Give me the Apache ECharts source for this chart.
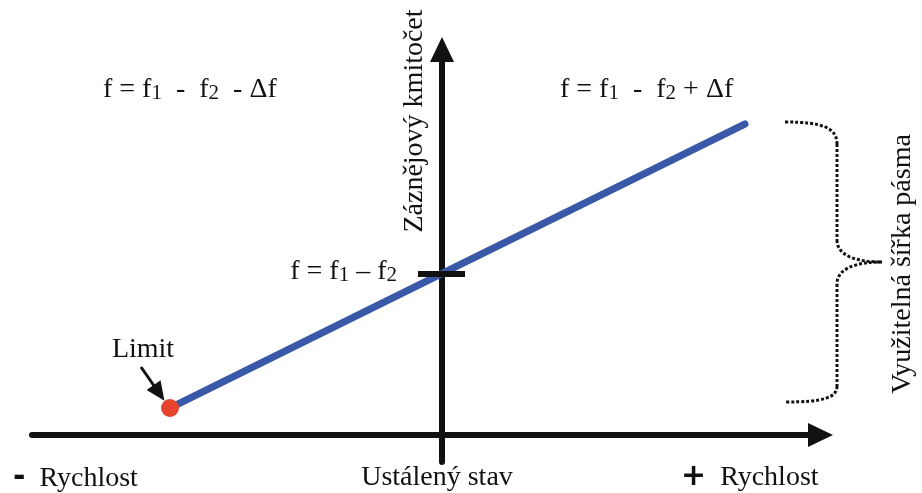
<!DOCTYPE html>
<html>
<head>
<meta charset="utf-8">
<script src="https://cdn.jsdelivr.net/npm/echarts@6/dist/echarts.min.js"></script>
<style>
  html, body { margin: 0; padding: 0; background: #fff; }
  #chart { width: 922px; height: 493px; }
</style>
</head>
<body>
<div id="chart"></div>
<script>
// speed (x) and beat frequency (y) in arbitrary units, steady state at 0
const speed = [-27.2, 0, 30.3]
const freq = [2.7, 16.15, 31.1]
// f = f1 - f2 level marked on the y axis
const baseFreq = 16.15
// arrow pointing at the limit point: [start, end]
const limitArrow = [[-30.1, 6.8], [-28.3, 4.2]]
// usable bandwidth brace: x, top, bottom
const braceX = 34.3
const braceRange = [31.3, 3.3]

const serif = 'Liberation Serif'
const ink = '#111'

const chart = echarts.init(document.getElementById('chart'))

const text = (x, y, str, opts) => Object.assign({
  type: 'text',
  x: x,
  y: y,
  silent: true,
  style: Object.assign({
    text: str,
    fontFamily: serif,
    fontSize: 28,
    fill: ink,
    align: 'center',
    verticalAlign: 'middle',
    rich: {
      n: { fontSize: 28, fontFamily: serif, verticalAlign: 'bottom' },
      s: { fontSize: 21, fontFamily: serif, verticalAlign: 'bottom' },
      b: { fontSize: 30, fontFamily: 'DejaVu Sans', fontWeight: 'bold', verticalAlign: 'bottom' }
    }
  }, opts && opts.style)
}, opts && opts.el)

const renderBrace = (params, api) => {
  const top = api.coord([api.value(0), api.value(1)])
  const bot = api.coord([api.value(0), api.value(2)])
  const x = top[0], t = top[1], b = bot[1], m = (t + b) / 2
  const st = { stroke: ink, lineWidth: 3, lineDash: [3, 2], fill: null }
  return {
    type: 'group',
    children: [
      { type: 'bezierCurve', shape: { x1: x, y1: t, cpx1: x + 38, cpy1: t, cpx2: x + 52, cpy2: t + 6, x2: x + 52, y2: t + 22 }, style: st },
      { type: 'line', shape: { x1: x + 52, y1: t + 22, x2: x + 52, y2: m - 22 }, style: st },
      { type: 'bezierCurve', shape: { x1: x + 52, y1: m - 22, cpx1: x + 52, cpy1: m - 6, cpx2: x + 72, cpy2: m, x2: x + 97, y2: m }, style: st },
      { type: 'bezierCurve', shape: { x1: x + 97, y1: m, cpx1: x + 72, cpy1: m, cpx2: x + 52, cpy2: m + 6, x2: x + 52, y2: m + 22 }, style: st },
      { type: 'line', shape: { x1: x + 52, y1: m + 22, x2: x + 52, y2: b - 16 }, style: st },
      { type: 'bezierCurve', shape: { x1: x + 52, y1: b - 16, cpx1: x + 52, cpy1: b - 4, cpx2: x + 38, cpy2: b, x2: x, y2: b }, style: st }
    ]
  }
}

const axisLine = {
  show: true,
  onZero: true,
  symbol: ['none', 'triangle'],
  symbolSize: [24, 25],
  lineStyle: { color: ink, width: 6 }
}

chart.setOption({
  animation: false,
  backgroundColor: '#fff',
  grid: { left: 32, right: 101.5, top: 49.5, bottom: 31 },
  xAxis: {
    type: 'value',
    min: -41,
    max: 37.85,
    axisLine: axisLine,
    axisTick: { show: false },
    axisLabel: { show: false },
    splitLine: { show: false }
  },
  yAxis: {
    type: 'value',
    min: -2.7,
    max: 38.55,
    axisLine: axisLine,
    axisTick: { show: false },
    axisLabel: { show: false },
    splitLine: { show: false }
  },
  series: [
    {
      type: 'line',
      data: speed.map((s, i) => [s, freq[i]]),
      showSymbol: false,
      silent: true,
      lineStyle: { color: '#3a58a8', width: 7, cap: 'round' },
      markLine: {
        silent: true,
        symbol: 'none',
        label: { show: false },
        lineStyle: { color: ink, width: 6, type: 'solid' },
        data: [[{ coord: [-2.4, baseFreq] }, { coord: [2.3, baseFreq] }]]
      },
      z: 3
    },
    {
      type: 'scatter',
      data: [[speed[0], freq[0]]],
      symbolSize: 18,
      silent: true,
      itemStyle: { color: '#e5432b', opacity: 1 },
      markLine: {
        silent: true,
        symbol: ['none', 'triangle'],
        symbolSize: [17, 19],
        label: { show: false },
        lineStyle: { color: ink, width: 3, type: 'solid' },
        data: [[{ coord: limitArrow[0] }, { coord: limitArrow[1] }]]
      },
      z: 4
    },
    {
      type: 'custom',
      data: [[braceX, braceRange[0], braceRange[1]]],
      renderItem: renderBrace,
      silent: true,
      clip: false
    }
  ],
  graphic: [
    text(103, 90, '{n|f = f}{s|1}{n|  -  f}{s|2}{n|  - Δf}', { style: { align: 'left' } }),
    text(560, 90, '{n|f = f}{s|1}{n|  -  f}{s|2}{n| + Δf}', { style: { align: 'left' } }),
    text(397, 272, '{n|f = f}{s|1}{n| – f}{s|2}', { style: { align: 'right' } }),
    text(143, 350, 'Limit'),
    text(415, 121, 'Záznějový kmitočet', { el: { rotation: Math.PI / 2 } }),
    text(903, 264, 'Využitelná šířka pásma', { el: { rotation: Math.PI / 2 } }),
    text(13, 478, '{b|-}{n|  Rychlost}', { style: { align: 'left' } }),
    text(437, 478, 'Ustálený stav'),
    text(681, 477, '{b|+}{n|  Rychlost}', { style: { align: 'left' } })
  ]
})

window.addEventListener('resize', () => chart.resize())
</script>
</body>
</html>
